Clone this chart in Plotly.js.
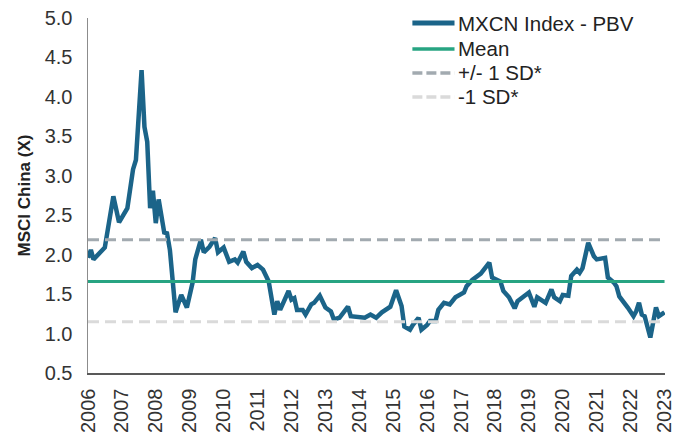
<!DOCTYPE html>
<html>
<head>
<meta charset="utf-8">
<script src="https://cdn.plot.ly/plotly-3.0.1.min.js"></script>
<style>html,body{margin:0;padding:0;background:#fff;}#chart{width:676px;height:435px;}</style>
</head>
<body>
<div id="chart"></div>
<script>
const dates = ["2006-01","2006-02","2006-03","2006-07","2006-10","2006-12","2007-03","2007-05","2007-06","2007-08","2007-09","2007-10","2007-11","2007-12","2008-01","2008-02","2008-04","2008-05","2008-06","2008-08","2008-10","2008-12","2009-02","2009-03","2009-05","2009-06","2009-08","2009-10","2009-11","2010-01","2010-03","2010-05","2010-06","2010-08","2010-09","2010-11","2011-01","2011-03","2011-05","2011-07","2011-08","2011-09","2011-12","2012-01","2012-02","2012-03","2012-05","2012-06","2012-08","2012-09","2012-11","2013-01","2013-03","2013-04","2013-06","2013-09","2013-10","2014-01","2014-03","2014-05","2014-07","2014-09","2014-12","2015-02","2015-04","2015-05","2015-07","2015-08","2015-10","2015-11","2016-01","2016-02","2016-04","2016-05","2016-07","2016-09","2016-11","2017-02","2017-03","2017-05","2017-07","2017-08","2017-11","2017-12","2018-03","2018-04","2018-06","2018-08","2018-09","2018-11","2019-01","2019-03","2019-04","2019-07","2019-09","2019-10","2019-12","2020-01","2020-03","2020-04","2020-06","2020-07","2020-08","2020-10","2020-12","2021-01","2021-04","2021-05","2021-07","2021-08","2021-09","2021-12","2022-02","2022-03","2022-04","2022-05","2022-06","2022-08","2022-09","2022-10","2022-11","2023-01"];
const pbv = [1.96,2.06,1.94,2.09,2.74,2.41,2.59,3.08,3.20,4.34,3.62,3.43,2.59,2.81,2.40,2.70,2.28,2.27,2.06,1.27,1.49,1.33,1.65,1.94,2.19,2.03,2.10,2.21,2.03,2.09,1.91,1.94,1.90,2.04,1.91,1.83,1.87,1.81,1.66,1.24,1.41,1.30,1.54,1.43,1.45,1.30,1.30,1.24,1.37,1.39,1.48,1.33,1.28,1.18,1.20,1.34,1.22,1.20,1.20,1.24,1.20,1.27,1.34,1.55,1.35,1.09,1.05,1.11,1.20,1.05,1.11,1.16,1.16,1.30,1.39,1.37,1.46,1.52,1.60,1.68,1.73,1.76,1.90,1.71,1.66,1.54,1.46,1.32,1.41,1.47,1.52,1.34,1.46,1.39,1.56,1.46,1.41,1.49,1.48,1.73,1.81,1.77,1.83,2.15,1.98,1.94,1.96,1.71,1.65,1.60,1.47,1.33,1.22,1.28,1.39,1.24,1.22,0.95,1.18,1.33,1.22,1.27];
const meanValue = 1.66;
const sdUpper = 2.19;
const sdLower = 1.15;
const seriesNames = ["MXCN Index - PBV","Mean","+/- 1 SD*","-1 SD*"];
const tickYears = ["2006","2007","2008","2009","2010","2011","2012","2013","2014","2015","2016","2017","2018","2019","2020","2021","2022","2023"];

const styles = [
  {color: '#1b6489', width: 4.5, dash: 'solid'},
  {color: '#27a482', width: 3, dash: 'solid'},
  {color: '#a2aab0', width: 3, dash: '11px,6px'},
  {color: '#dadada', width: 3, dash: '11px,6px'}
];
const x0 = dates[0], x1 = dates[dates.length-1];
const levels = [null, meanValue, sdUpper, sdLower];
const traces = seriesNames.map((nm, i) => ({
  x: i === 0 ? dates : [x0, x1],
  y: i === 0 ? pbv : [levels[i], levels[i]],
  name: nm, type: 'scatter', mode: 'lines', showlegend: false,
  line: styles[i]
}));

// legend drawn in paper coordinates
const legX0 = 0.5622, legX1 = 0.6352, legTextX = 0.6386;
const legY = [0.9859, 0.9127, 0.8451, 0.7775];
const shapes = seriesNames.map((nm, i) => ({
  type: 'line', xref: 'paper', yref: 'paper', x0: legX0, x1: legX1, y0: legY[i], y1: legY[i],
  line: {color: styles[i].color, width: i === 0 ? 5 : 3.5, dash: i >= 2 ? '10px,4px' : 'solid'},
  layer: 'above'
}));
const annotations = seriesNames.map((nm, i) => ({
  xref: 'paper', yref: 'paper', x: legTextX, y: legY[i], xanchor: 'left', yanchor: 'middle',
  text: nm, showarrow: false, font: {size: 20.5, color: '#222'}
}));

const layout = {
  width: 676, height: 435,
  margin: {l: 88, r: 11, t: 18, b: 62},
  paper_bgcolor: '#fff', plot_bgcolor: '#fff',
  font: {family: 'Liberation Sans, Arial, sans-serif', color: '#333', size: 20},
  showlegend: false,
  shapes: shapes,
  annotations: annotations,
  xaxis: {type: 'date', range: ['2006-01-01','2023-01-06'],
          tickvals: tickYears.map(y => y + '-01-01'), ticktext: tickYears,
          tickangle: -90, showgrid: false, zeroline: false, ticklabeloverflow: 'allow',
          ticklabelstandoff: 6,
          showline: true, linecolor: '#595959', linewidth: 1.5, ticks: '',
          tickfont: {size: 20, color: '#333'}},
  yaxis: {range: [0.5, 5.0], dtick: 0.5, tickformat: '.1f', showgrid: false, zeroline: false,
          showline: true, linecolor: '#8c8c8c', linewidth: 1.5, ticks: '',
          ticklabelstandoff: 10,
          tickfont: {size: 20, color: '#333'},
          title: {text: '<b>MSCI China (X)</b>', font: {size: 17, color: '#222'}, standoff: 9}}
};
Plotly.newPlot('chart', traces, layout, {displayModeBar: false, staticPlot: true});
</script>
</body>
</html>
